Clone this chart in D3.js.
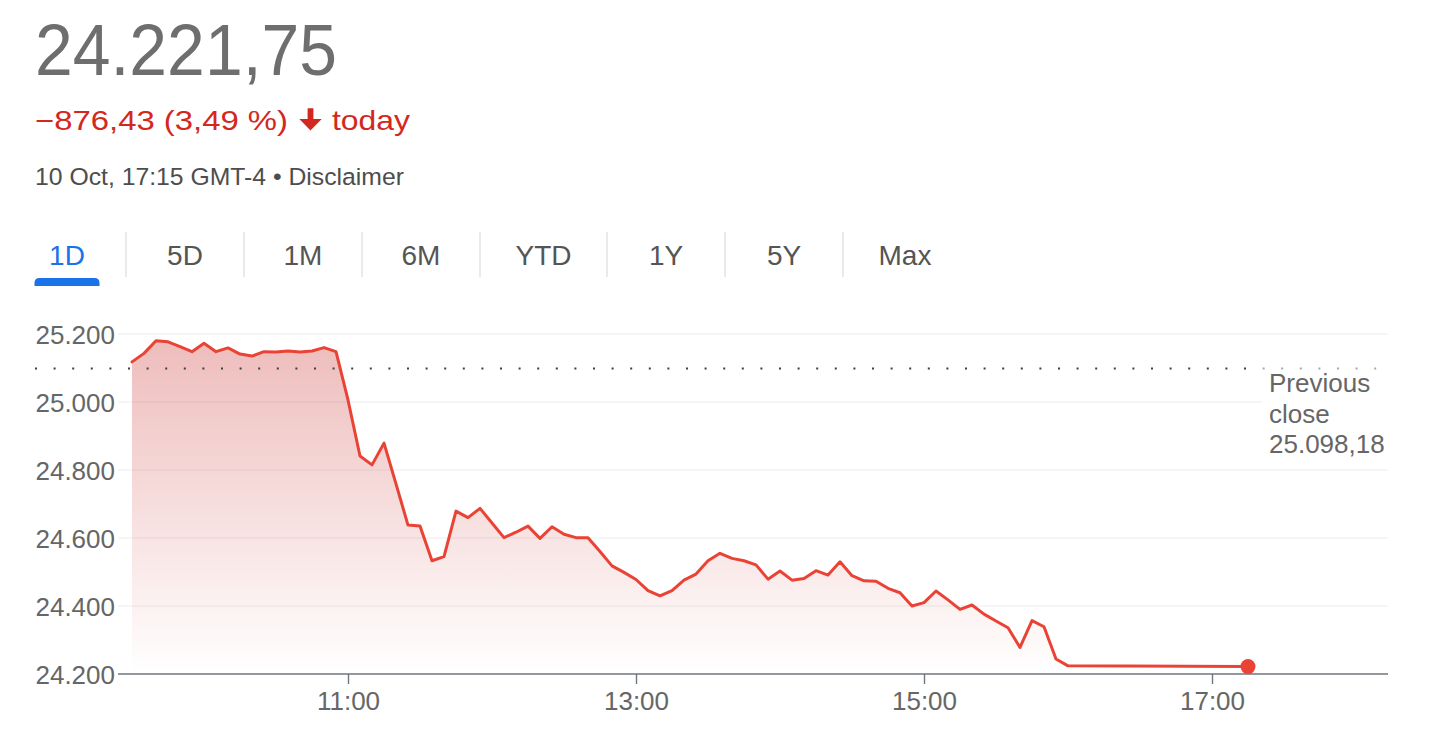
<!DOCTYPE html>
<html><head><meta charset="utf-8">
<script src="https://cdn.jsdelivr.net/npm/d3@7"></script>
<style>
body{margin:0;background:#fff}
svg{display:block;font-family:"Liberation Sans",Arial,Helvetica,sans-serif}
</style>
</head><body>
<svg id="c" width="1456" height="733"></svg>
<script>
// ---------- data ----------
const times = ["9:30","9:35","9:40","9:45","9:50","9:55","10:00","10:05","10:10","10:15","10:20","10:25","10:30","10:35","10:40","10:45","10:50","10:55",
"11:00","11:05","11:10","11:15","11:20","11:25","11:30","11:35","11:40","11:45","11:50","11:55","12:00","12:05","12:10","12:15","12:20","12:25","12:30","12:35","12:40","12:45","12:50","12:55",
"13:00","13:05","13:10","13:15","13:20","13:25","13:30","13:35","13:40","13:45","13:50","13:55","14:00","14:05","14:10","14:15","14:20","14:25","14:30","14:35","14:40","14:45","14:50","14:55",
"15:00","15:05","15:10","15:15","15:20","15:25","15:30","15:35","15:40","15:45","15:50","15:55","16:00","17:15"];
const values = [25118,25143,25180,25177,25163,25148,25173,25148,25159,25141,25135,25148,25147,25150,25147,25150,25160,25148,
25006,24841,24815,24879,24759,24638,24635,24533,24545,24679,24660,24687,24644,24601,24617,24635,24599,24633,24611,24601,24601,24560,24518,24499,
24478,24445,24430,24445,24476,24494,24533,24555,24540,24533,24521,24479,24503,24476,24481,24504,24491,24530,24489,24474,24473,24452,24439,24400,
24410,24444,24418,24390,24403,24376,24356,24336,24278,24357,24339,24244,24224,24221.75];
const yTicks = [24200,24400,24600,24800,25000,25200];
const xTickLabels = ["11:00","13:00","15:00","17:00"];
const xDomain = ["9:30","18:15"];
const tabs = ["1D","5D","1M","6M","YTD","1Y","5Y","Max"];
const previousClose = 25098.18;
const lastPrice = 24221.75;
const change = -876.43;
const changePct = 3.49;
const stampText = "10 Oct, 17:15 GMT-4 \u2022 Disclaimer";
const todayText = "today";
const prevLabel = ["Previous", "close"];

// ---------- helpers ----------
const loc = d3.formatLocale({decimal: ",", thousands: ".", grouping: [3], currency: ["", ""]});
const f2 = loc.format(",.2f"), f0 = loc.format(",.0f");
const parseT = t => { const [h, m] = t.split(":").map(Number); return new Date(2024, 9, 10, h, m); };
const data = times.map((t, i) => ({t: parseT(t), v: values[i]}));

const RED = "#ea4335", TXT_RED = "#d3281d", GREY = "#666", DARK = "#4d4d4d";
const svg = d3.select("#c");

// ---------- header ----------
svg.append("text").attr("x", 35).attr("y", 75)
  .attr("font-size", 72).attr("fill", "#6e6e6e")
  .attr("textLength", 302).attr("lengthAdjust", "spacingAndGlyphs")
  .text(f2(lastPrice));

svg.append("text").attr("x", 35).attr("y", 129.5)
  .attr("font-size", 28).attr("fill", TXT_RED)
  .attr("textLength", 253).attr("lengthAdjust", "spacingAndGlyphs")
  .text(f2(change) + " (" + loc.format(".2f")(changePct) + " %)");
// down arrow
svg.append("path").attr("fill", TXT_RED)
  .attr("d", "M307.6,108.3 H313.4 V119 H321.7 L310.5,130.5 L299.3,119 H307.6 Z");
svg.append("text").attr("x", 332).attr("y", 129.5)
  .attr("font-size", 28).attr("fill", TXT_RED)
  .attr("textLength", 78).attr("lengthAdjust", "spacingAndGlyphs")
  .text(todayText);

svg.append("text").attr("x", 35).attr("y", 185)
  .attr("font-size", 24.5).attr("fill", DARK)
  .attr("textLength", 369).attr("lengthAdjust", "spacingAndGlyphs")
  .text(stampText);

// ---------- tabs ----------
const tabG = svg.append("g");
let tx = 8;
tabs.forEach((label, i) => {
  const t = tabG.append("text").attr("y", 265).attr("font-size", 28)
    .attr("text-anchor", "middle")
    .attr("fill", i === 0 ? "#1a73e8" : "#555").text(label);
  const w = Math.max(118, t.node().getComputedTextLength() + 71);
  t.attr("x", tx + w / 2);
  if (i === 0) {
    const cx = tx + w / 2, x0 = cx - 32.5, x1 = cx + 32.5, r = 5;
    tabG.append("path").attr("fill", "#1a73e8")
      .attr("d", `M${x0},286 V${278 + r} Q${x0},278 ${x0 + r},278 H${x1 - r} Q${x1},278 ${x1},${278 + r} V286 Z`);
  }
  tx += w;
  if (i < tabs.length - 1) {
    tabG.append("line").attr("x1", tx).attr("x2", tx).attr("y1", 232).attr("y2", 277)
      .attr("stroke", "#dadce0").attr("stroke-width", 1.2);
  }
});

// ---------- chart ----------
const x = d3.scaleTime().domain(xDomain.map(parseT)).range([132, 1392]);
const y = d3.scaleLinear().domain([yTicks[0], yTicks[yTicks.length - 1]]).range([674, 334]);
const gridL = 118, gridR = 1388;

// gridlines
svg.append("g").selectAll("line").data(yTicks.slice(1)).join("line")
  .attr("x1", gridL).attr("x2", gridR)
  .attr("y1", d => y(d)).attr("y2", d => y(d))
  .attr("stroke", "#eeeeee").attr("stroke-width", 1.2);

// y axis labels
const yAxis = svg.append("g").attr("transform", `translate(${gridL},0)`)
  .call(d3.axisLeft(y).tickValues(yTicks).tickSize(0).tickPadding(3).tickFormat(f0));
yAxis.select(".domain").remove();
yAxis.selectAll("text").attr("font-size", 26).attr("fill", GREY)
  .attr("font-family", "'Liberation Sans',Arial,sans-serif").attr("dy", "0.35em");

// gradient
const defs = svg.append("defs");
const grad = defs.append("linearGradient").attr("id", "fillg")
  .attr("gradientUnits", "userSpaceOnUse").attr("x1", 0).attr("x2", 0)
  .attr("y1", y(25180)).attr("y2", y(yTicks[0]));
grad.append("stop").attr("offset", 0).attr("stop-color", "#c5221f").attr("stop-opacity", 0.3);
grad.append("stop").attr("offset", 1).attr("stop-color", "#c5221f").attr("stop-opacity", 0);

const area = d3.area().x(d => x(d.t)).y0(y(yTicks[0])).y1(d => y(d.v));
svg.append("path").datum(data).attr("d", area).attr("fill", "url(#fillg)");

// previous close dotted line
svg.append("line").attr("x1", 35).attr("x2", 1385)
  .attr("y1", y(previousClose)).attr("y2", y(previousClose))
  .attr("stroke", "#3c4043").attr("stroke-width", 2)
  .attr("stroke-dasharray", "2 16.6");

// label box
svg.append("rect").attr("x", 1262).attr("y", y(previousClose) + 1.5).attr("width", 134).attr("height", 92)
  .attr("fill", "#fff");
svg.append("rect").attr("x", 1262).attr("y", y(previousClose) - 2).attr("width", 134).attr("height", 4)
  .attr("fill", "#fff").attr("opacity", 0.55);
const pl = svg.append("text").attr("font-size", 26).attr("fill", GREY);
[...prevLabel, f2(previousClose)].forEach((s, i) => {
  pl.append("tspan").attr("x", 1269).attr("y", 392 + i * 30.5).text(s);
});

// line
const line = d3.line().x(d => x(d.t)).y(d => y(d.v));
svg.append("path").datum(data).attr("d", line)
  .attr("fill", "none").attr("stroke", RED).attr("stroke-width", 3)
  .attr("stroke-linejoin", "round").attr("stroke-linecap", "round");

// x axis
svg.append("line").attr("x1", gridL).attr("x2", gridR).attr("y1", y(yTicks[0])).attr("y2", y(yTicks[0]))
  .attr("stroke", "#70757a").attr("stroke-width", 1.6);
const xAxis = svg.append("g").attr("transform", `translate(0,${y(yTicks[0])})`)
  .call(d3.axisBottom(x).tickValues(xTickLabels.map(parseT)).tickSize(10).tickPadding(8)
    .tickFormat(d3.timeFormat("%H:%M")));
xAxis.select(".domain").remove();
xAxis.selectAll(".tick line").attr("stroke", "#70757a").attr("stroke-width", 1.4);
xAxis.selectAll("text").attr("font-size", 26).attr("fill", GREY)
  .attr("font-family", "'Liberation Sans',Arial,sans-serif");

// end point
const last = data[data.length - 1];
svg.append("circle").attr("cx", x(last.t)).attr("cy", y(last.v)).attr("r", 7.5).attr("fill", RED);
</script>
</body></html>
